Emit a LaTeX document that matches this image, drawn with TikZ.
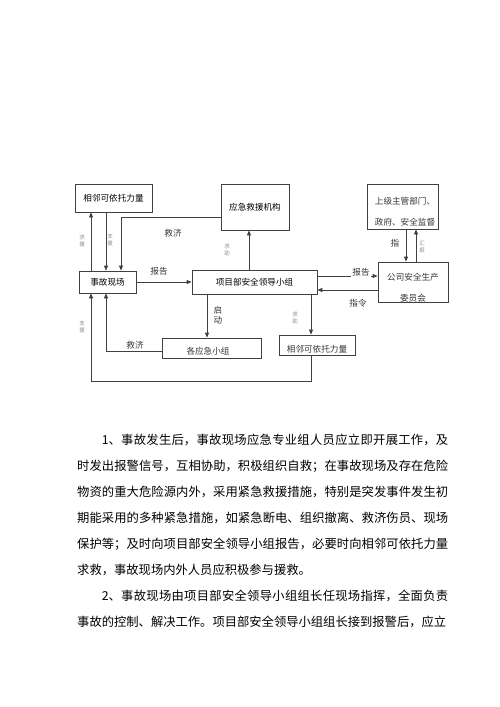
\documentclass[tikz,border=0pt]{standalone}
\usepackage{fontspec}
\setmainfont{Noto Sans CJK SC}
\XeTeXlinebreaklocale "zh"
\XeTeXlinebreakskip = 0pt plus 1pt
\usetikzlibrary{arrows.meta}

\begin{document}
\begin{tikzpicture}[x=1pt, y=-1pt,
      box/.style={draw=black!75, line width=0.8pt, inner sep=0pt,
         font=\fontsize{8.6pt}{10pt}\selectfont},
      tag/.style={inner sep=1pt, text=black!80,
         font=\fontsize{8.6pt}{10pt}\selectfont},
      vtag/.style={inner sep=0pt, align=center, text=black!45,
         font=\fontsize{5.5pt}{6.5pt}\selectfont},
      arr/.style={draw=black!75, line width=0.8pt,
         -{Triangle[length=5pt,width=4pt]}}]
         \useasboundingbox (0,0) rectangle (500,707);

         % boxes
         \node (nbrTop) at (113.5,198) [box, minimum width=77pt,
            minimum height=28pt] {相邻可依托力量};
         \node (site) at (107.5,282) [box, minimum width=57pt,
            minimum height=22pt] {事故现场};
         \node (rescue) at (255,207) [box, minimum width=68pt,
            minimum height=46pt] {应急救援机构};
         \node (lead) at (254.5,282) [box, minimum width=125pt,
            minimum height=24pt] {项目部安全领导小组};
         \node (upper) at (402.5,206.5) [box, minimum width=71pt,
            minimum height=45pt] {};
         \node (upperText) at (405,212) [tag, align=center,
            font=\fontsize{8.6pt}{21pt}\selectfont] {上级主管部门、\\政府、安全监督};
         \node (company) at (413,282) [box, minimum width=70pt,
            minimum height=40pt] {};
         \begin{scope}
            \clip (company.south west) rectangle (company.north east);
            \node (companyText) at (413,287.5) [tag, align=center,
               font=\fontsize{8.6pt}{21pt}\selectfont] {公司安全生产\\委员会};
         \end{scope}
         \node (groups) at (211.5,348) [box, minimum width=99pt,
            minimum height=20pt] {};
         \node (groupsText) at (208,351.5) [tag] {各应急小组};
         \node (nbrLow) at (317,345) [box, minimum width=76pt,
            minimum height=20pt] {};
         \node (nbrLowText) at (317,349.5) [tag] {相邻可依托力量};

         % columns of the vertical links
         \coordinate (cL) at (91,0);
         \coordinate (cR) at (106,0);
         \coordinate (cS) at (121,0);
         \coordinate (cM) at (249,0);
         \coordinate (cG) at (207,0);
         \coordinate (cN) at (311,0);
         \coordinate (cD) at (406,0);
         \coordinate (cU) at (416,0);
         \coordinate (bend) at (91,381);

         % links
         \draw [arr] (cL |- site.north) -- (cL |- nbrTop.south);
         \draw [arr] (cR |- nbrTop.south) -- (cR |- site.north);
         \draw [arr] ([yshift=-10pt]rescue.west) -| (cS |- site.north);
         \draw [arr] (site.east) -- (site.east -| lead.west);
         \draw [arr] (cM |- lead.north) -- (cM |- rescue.south);
         \draw [arr] ([yshift=6pt]lead.east) -- ([yshift=6pt]company.west);
         \draw [arr] ([yshift=-8pt]company.west) -- ([yshift=-8pt]lead.east);
         \draw [arr] (cD |- upper.south) -- (cD |- company.north);
         \draw [arr] (cU |- company.north) -- (cU |- upper.south);
         \draw [arr] (cG |- lead.south) -- (cG |- groups.north);
         \draw [arr] (cN |- lead.south) -- (cN |- nbrLow.north);
         \draw [arr] ([yshift=-3pt]groups.west) -| (cR |- site.south);
         \draw [arr] (cN |- nbrLow.south) |- (bend) -- (cL |- site.south);

         % link labels
         \node (tagAid1) at (173,233) [tag] {救济};
         \node (tagRep1) at (159,271) [tag] {报告};
         \node (tagRep2) at (361,272) [tag, fill=white] {报告};
         \node (tagOrder) at (358,303) [tag] {指令};
         \node (tagPt) at (395,243) [tag] {指};
         \node (tagStart) at (218,315) [tag, align=center,
            font=\fontsize{8.6pt}{10pt}\selectfont] {启\\动};
         \node (tagAid2) at (135,345) [tag] {救济};
         \node (vtagA) at (82,241) [vtag] {求\\援};
         \node (vtagB) at (110,240) [vtag] {支\\援};
         \node (vtagC) at (227,250) [vtag] {求\\助};
         \node (vtagD) at (422,247) [vtag] {汇\\报};
         \node (vtagE) at (295,318) [vtag] {求\\助};
         \node (vtagF) at (82,327) [vtag] {支\\援};

         % text below the chart
         \node (body) at (77,434) [anchor=north west, inner sep=0pt,
            text width=371pt, align=justify,
            font=\fontsize{12.3pt}{26pt}\selectfont] {%
            \setlength{\parindent}{0pt}\setlength{\parskip}{0pt}%
            \hspace*{2em}1、事故发生后，事故现场应急专业组人员应立即开展工作，及时发出报警信号，互相协助，积极组织自救；在事故现场及存在危险物资的重大危险源内外，采用紧急救援措施，特别是突发事件发生初期能采用的多种紧急措施，如紧急断电、组织撤离、救济伤员、现场保护等；及时向项目部安全领导小组报告，必要时向相邻可依托力量求救，事故现场内外人员应积极参与援救。\par
            \hspace*{2em}2、事故现场由项目部安全领导小组组长任现场指挥，全面负责事故的控制、解决工作。项目部安全领导小组组长接到报警后，应立\par};
      \end{tikzpicture}
\end{document}
